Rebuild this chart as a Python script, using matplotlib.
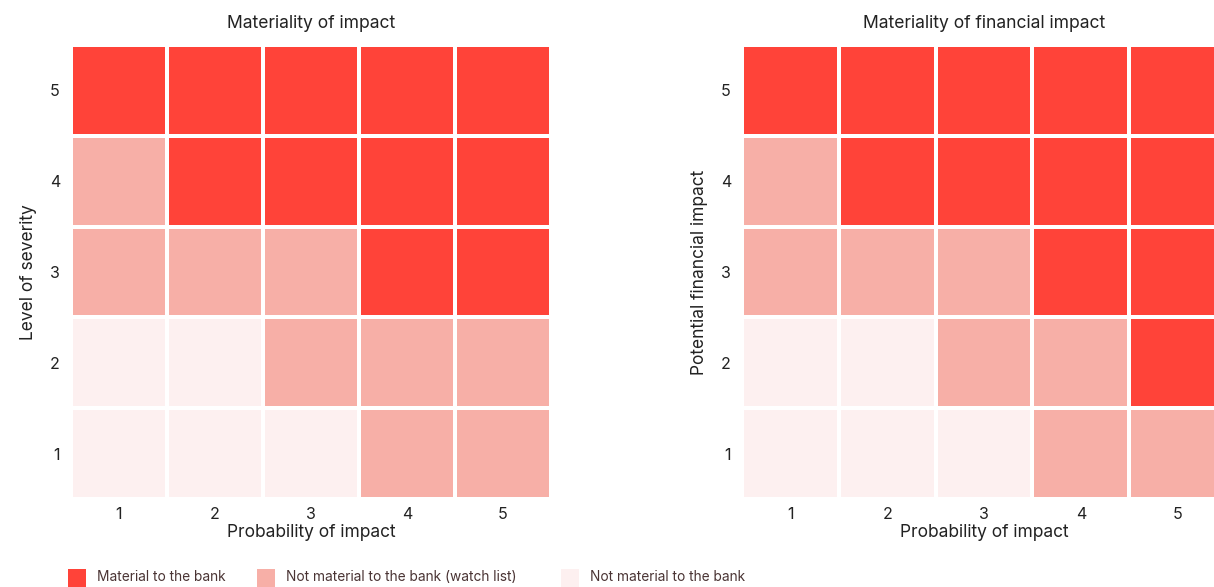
import numpy as np
import matplotlib
matplotlib.use('Agg')
from matplotlib import pyplot as plt
from matplotlib.colors import ListedColormap
from matplotlib.patches import Rectangle

plt.rcParams['font.family'] = ['Inter', 'DejaVu Sans']

# materiality class per cell: rows = level 1..5 (bottom to top), cols = probability 1..5
# 1 = not material, 2 = watch list, 3 = material
impact_matrix = [
    [1, 1, 1, 2, 2],
    [1, 1, 2, 2, 2],
    [2, 2, 2, 3, 3],
    [2, 3, 3, 3, 3],
    [3, 3, 3, 3, 3],
]
financial_matrix = [
    [1, 1, 1, 2, 2],
    [1, 1, 2, 2, 3],
    [2, 2, 2, 3, 3],
    [2, 3, 3, 3, 3],
    [3, 3, 3, 3, 3],
]
levels = [1, 2, 3, 4, 5]
titles = ['Materiality of impact', 'Materiality of financial impact']
ylabels = ['Level of severity', 'Potential financial impact']
xlabel = 'Probability of impact'
legend_labels = ['Material to the bank', 'Not material to the bank (watch list)',
                 'Not material to the bank']

red = '#ff4339'
pink = '#f7afa7'
pale = '#fdf0f0'
cmap = ListedColormap([pale, pink, red])
txt = '#222222'

fig = plt.figure(figsize=(12.14, 5.87), dpi=100)
# axes padded by half a grid line so outer cells line up with the frame
ax1 = fig.add_axes([71/1214, 88/587, 480/1214, 454/587])
ax2 = fig.add_axes([742/1214, 88/587, 484/1214, 454/587])

edges = np.arange(0.5, 6, 1.0)
for ax, mat, title, ylab in zip([ax1, ax2], [impact_matrix, financial_matrix], titles, ylabels):
    ax.pcolormesh(edges, edges, np.array(mat), cmap=cmap, vmin=0.5, vmax=3.5,
                  edgecolors='white', linewidth=2.6)
    ax.set_xlim(0.5, 5.5)
    ax.set_ylim(0.5, 5.5)
    ax.set_xticks(levels)
    ax.set_yticks(levels)
    ax.set_xticklabels([str(v) for v in levels], fontsize=11.5, color=txt)
    ax.set_yticklabels([str(v) for v in levels], fontsize=11.5, color=txt)
    ax.tick_params(axis='y', length=0, pad=8)
    ax.tick_params(axis='x', length=0, pad=6)
    for s in ax.spines.values():
        s.set_visible(False)
    ax.set_title(title, fontsize=12.6, color=txt, pad=12)
    ax.set_xlabel(xlabel, fontsize=12.5, color=txt, labelpad=1)
    ax.set_ylabel(ylab, fontsize=12.5, color=txt, labelpad=9)

# legend along the bottom edge
leg_x = [68, 257, 561]
for x, lab, c in zip(leg_x, legend_labels, [red, pink, pale]):
    fig.add_artist(Rectangle((x/1214, -1/587), 18/1214, 19/587,
                             transform=fig.transFigure, facecolor=c, edgecolor='none'))
    fig.text((x + 29)/1214, 10/587, lab, fontsize=9.9, color='#4a3434', va='center')

fig.savefig('out.png', dpi=100)
